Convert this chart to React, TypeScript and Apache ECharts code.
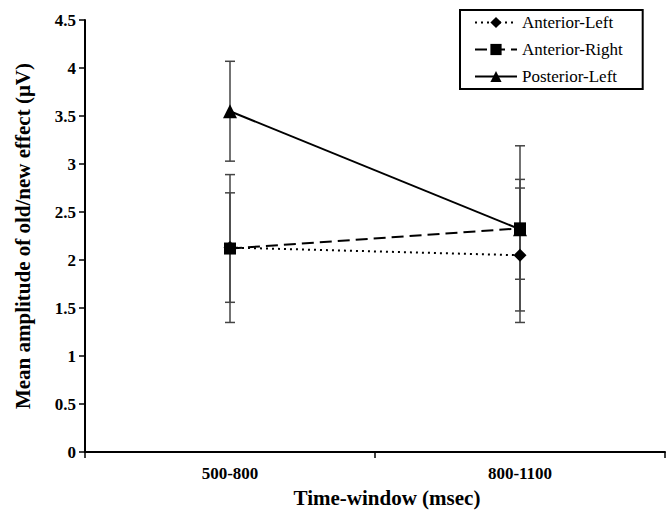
import React, { useEffect, useRef } from "react";
import * as echarts from "echarts";

const categories = ["500-800", "800-1100"];
const seriesNames = ["Anterior-Left", "Anterior-Right", "Posterior-Left"];
const anteriorLeft = [2.13, 2.05];
const anteriorRight = [2.12, 2.33];
const posteriorLeft = [3.55, 2.32];
const anteriorLeftErr = [0.57, 0.7];
const anteriorRightErr = [0.77, 0.86];
const posteriorLeftErr = [0.52, 0.52];
const yTicks = [0, 0.5, 1, 1.5, 2, 2.5, 3, 3.5, 4, 4.5];

const FONT = "Liberation Serif";

function errData(vals: number[], errs: number[]) {
  return vals.map((v, i) => [i, v - errs[i], v + errs[i]]);
}

export default function App() {
  const ref = useRef<HTMLDivElement>(null);
  useEffect(() => {
    if (!ref.current) return;
    const chart = echarts.init(ref.current, null, { renderer: "svg" });
    const errRender = (params: any, api: any) => {
      const lo = api.coord([api.value(0), api.value(1)]);
      const hi = api.coord([api.value(0), api.value(2)]);
      const w = 5;
      const style = { stroke: "#444", lineWidth: 1.5 };
      return {
        type: "group",
        children: [
          { type: "line", shape: { x1: lo[0], y1: lo[1], x2: hi[0], y2: hi[1] }, style },
          { type: "line", shape: { x1: lo[0] - w, y1: lo[1], x2: lo[0] + w, y2: lo[1] }, style },
          { type: "line", shape: { x1: hi[0] - w, y1: hi[1], x2: hi[0] + w, y2: hi[1] }, style },
        ],
      };
    };
    const errSeries = (vals: number[], errs: number[]) => ({
      type: "custom",
      renderItem: errRender,
      data: errData(vals, errs),
      z: 1,
      silent: true,
    });
    chart.setOption({
      animation: false,
      backgroundColor: "#fff",
      textStyle: { fontFamily: FONT },
      grid: { left: 85, right: 5, top: 20, bottom: 58, containLabel: false },
      legend: {
        orient: "vertical",
        left: 460,
        top: 10,
        data: seriesNames,
        itemWidth: 42,
        itemHeight: 14,
        itemGap: 10,
        padding: [4, 20, 4, 14],
        borderColor: "#000",
        borderWidth: 2,
        textStyle: { fontFamily: FONT, fontSize: 17, color: "#000" },
      },
      xAxis: {
        type: "category",
        data: categories,
        boundaryGap: true,
        axisLine: { lineStyle: { color: "#000", width: 2 } },
        axisTick: { show: true, length: 6, lineStyle: { color: "#000", width: 1.5 } },
        axisLabel: { fontFamily: FONT, fontSize: 17, fontWeight: "bold", color: "#000", margin: 13 },
        name: "Time-window (msec)",
        nameLocation: "middle",
        nameGap: 34,
        nameTextStyle: { fontFamily: FONT, fontSize: 21, fontWeight: "bold", color: "#000", padding: [0, 0, 0, 24] },
      },
      yAxis: {
        type: "value",
        min: yTicks[0],
        max: yTicks[yTicks.length - 1],
        interval: 0.5,
        splitLine: { show: false },
        axisLine: { show: true, lineStyle: { color: "#000", width: 2 } },
        axisTick: { show: true, length: 6, lineStyle: { color: "#000", width: 1.5 } },
        axisLabel: { fontFamily: FONT, fontSize: 17, fontWeight: "bold", color: "#000", margin: 9 },
        name: "Mean amplitude of old/new effect (\u03bcV)",
        nameLocation: "middle",
        nameGap: 52,
        nameTextStyle: { fontFamily: FONT, fontSize: 21, fontWeight: "bold", color: "#000" },
      },
      series: [
        errSeries(anteriorLeft, anteriorLeftErr),
        errSeries(anteriorRight, anteriorRightErr),
        errSeries(posteriorLeft, posteriorLeftErr),
        {
          name: seriesNames[0],
          type: "line",
          data: anteriorLeft,
          symbol: "diamond",
          symbolSize: 13,
          z: 3,
          lineStyle: { color: "#000", width: 2, type: [2, 4] },
          itemStyle: { color: "#000" },
        },
        {
          name: seriesNames[1],
          type: "line",
          data: anteriorRight,
          symbol: "rect",
          symbolSize: 12,
          z: 4,
          lineStyle: { color: "#000", width: 2, type: [12, 6] },
          itemStyle: { color: "#000" },
        },
        {
          name: seriesNames[2],
          type: "line",
          data: posteriorLeft,
          symbol: "triangle",
          symbolSize: 14,
          z: 3,
          lineStyle: { color: "#000", width: 2 },
          itemStyle: { color: "#000" },
        },
      ],
    });
    return () => chart.dispose();
  }, []);
  return <div ref={ref} style={{ width: 670, height: 513, position: "absolute", left: 0, top: 0 }} />;
}
